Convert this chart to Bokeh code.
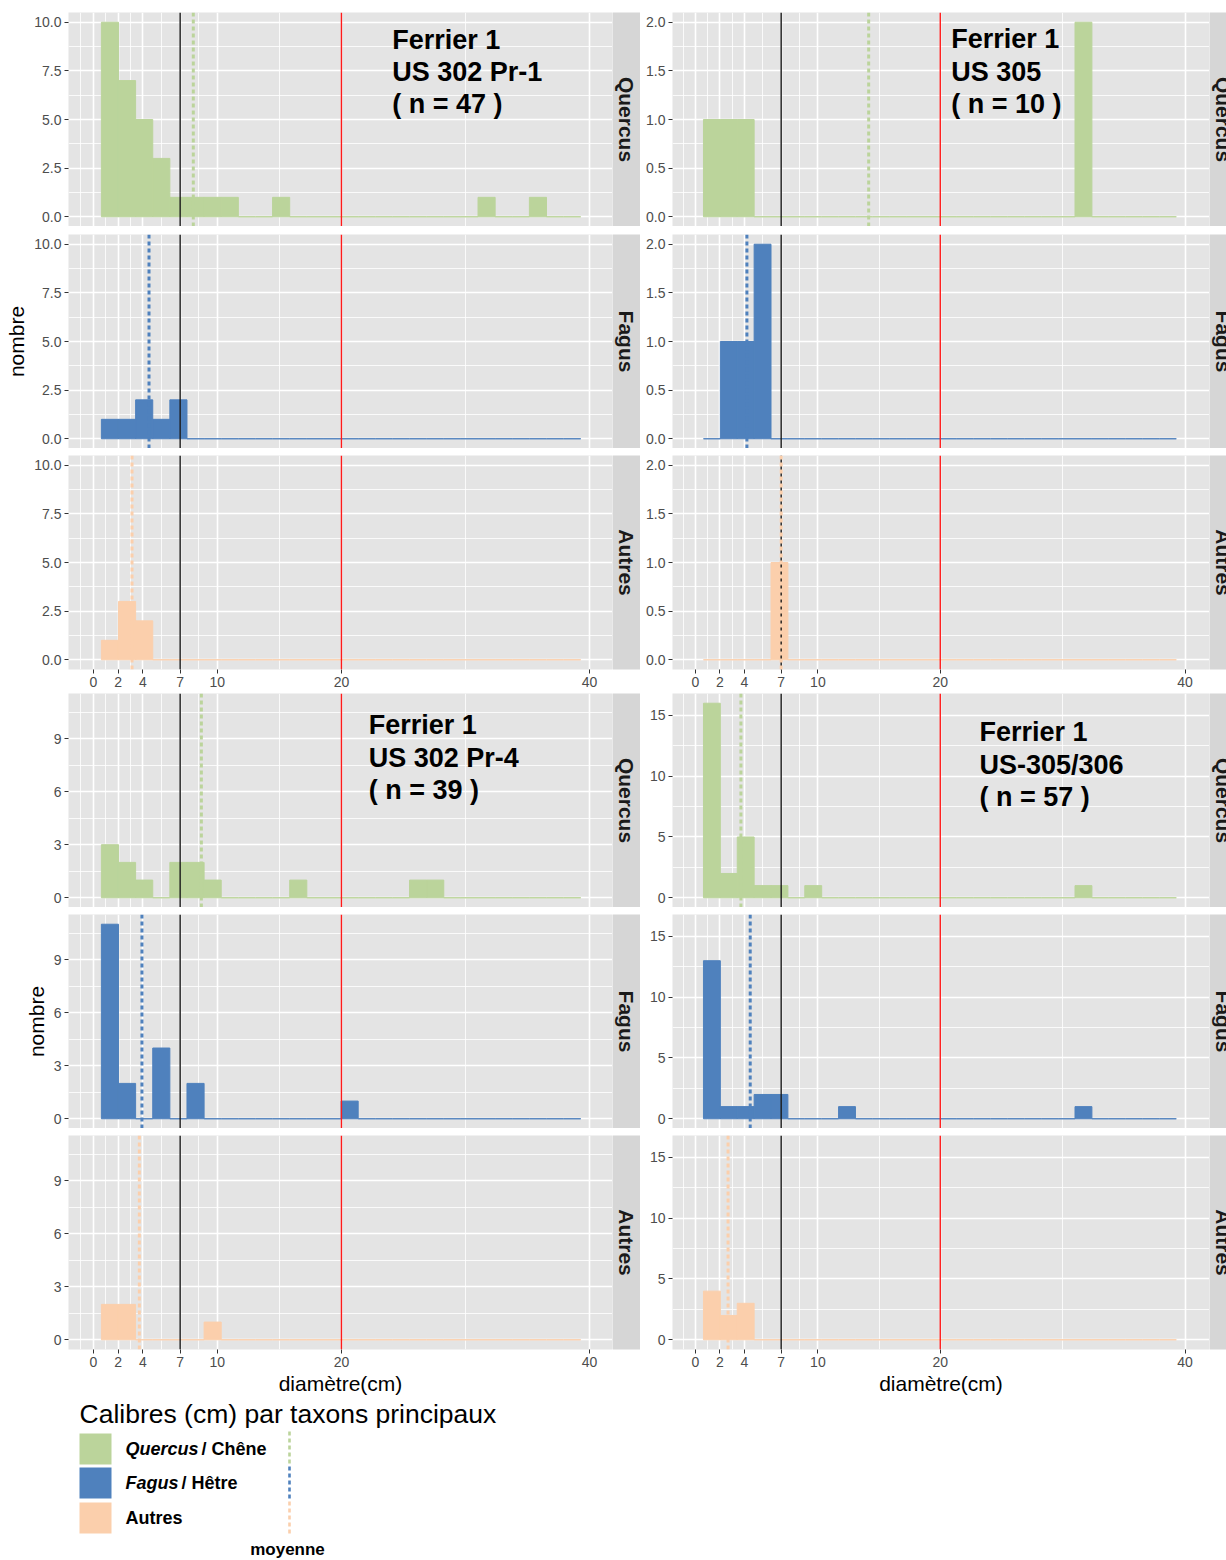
import math
from bokeh.plotting import figure
from bokeh.layouts import column, row
from bokeh.models import Range1d, FixedTicker, Span, Label, NumeralTickFormatter, ColumnDataSource
from bokeh.embed import file_html
from bokeh.resources import INLINE
from bokeh.core.properties import value

# ---------------- data ----------------
bin_start = 0.65
bin_width = 1.38
n_bins = 28

taxa = ["Quercus", "Fagus", "Autres"]
taxa_fr = ["Chêne", "Hêtre", ""]
taxa_colors = ["#BBD49B", "#4F81BD", "#FBCFAC"]

x_ticks = [0, 2, 4, 7, 10, 20, 40]
x_minor = [-1, 1, 3, 5.5, 8.5, 15, 30]
limit_small = 7
limit_large = 20

site_labels = [
    "Ferrier 1\nUS 302 Pr-1\n( n =  47 )",
    "Ferrier 1\nUS 305\n( n =  10 )",
    "Ferrier 1\nUS 302 Pr-4\n( n =  39 )",
    "Ferrier 1\nUS-305/306\n( n =  57 )",
]

# counts per bin (28 bins of width 1.38 starting at 0.65)
a_quercus = [10, 7, 5, 3, 1, 1, 1, 1, 0, 0, 1, 0, 0, 0, 0, 0, 0, 0, 0, 0, 0, 0, 1, 0, 0, 1, 0, 0]
a_fagus   = [1, 1, 2, 1, 2, 0, 0, 0, 0, 0, 0, 0, 0, 0, 0, 0, 0, 0, 0, 0, 0, 0, 0, 0, 0, 0, 0, 0]
a_autres  = [1, 3, 2, 0, 0, 0, 0, 0, 0, 0, 0, 0, 0, 0, 0, 0, 0, 0, 0, 0, 0, 0, 0, 0, 0, 0, 0, 0]
a_means   = [8.06, 4.49, 3.12]

b_quercus = [1, 1, 1, 0, 0, 0, 0, 0, 0, 0, 0, 0, 0, 0, 0, 0, 0, 0, 0, 0, 0, 0, 2, 0, 0, 0, 0, 0]
b_fagus   = [0, 1, 1, 2, 0, 0, 0, 0, 0, 0, 0, 0, 0, 0, 0, 0, 0, 0, 0, 0, 0, 0, 0, 0, 0, 0, 0, 0]
b_autres  = [0, 0, 0, 0, 1, 0, 0, 0, 0, 0, 0, 0, 0, 0, 0, 0, 0, 0, 0, 0, 0, 0, 0, 0, 0, 0, 0, 0]
b_means   = [14.15, 4.2, 7.0]

c_quercus = [3, 2, 1, 0, 2, 2, 1, 0, 0, 0, 0, 1, 0, 0, 0, 0, 0, 0, 1, 1, 0, 0, 0, 0, 0, 0, 0, 0]
c_fagus   = [11, 2, 0, 4, 0, 2, 0, 0, 0, 0, 0, 0, 0, 0, 1, 0, 0, 0, 0, 0, 0, 0, 0, 0, 0, 0, 0, 0]
c_autres  = [2, 2, 0, 0, 0, 0, 1, 0, 0, 0, 0, 0, 0, 0, 0, 0, 0, 0, 0, 0, 0, 0, 0, 0, 0, 0, 0, 0]
c_means   = [8.71, 3.92, 3.71]

d_quercus = [16, 2, 5, 1, 1, 0, 1, 0, 0, 0, 0, 0, 0, 0, 0, 0, 0, 0, 0, 0, 0, 0, 1, 0, 0, 0, 0, 0]
d_fagus   = [13, 1, 1, 2, 2, 0, 0, 0, 1, 0, 0, 0, 0, 0, 0, 0, 0, 0, 0, 0, 0, 0, 1, 0, 0, 0, 0, 0]
d_autres  = [4, 2, 3, 0, 0, 0, 0, 0, 0, 0, 0, 0, 0, 0, 0, 0, 0, 0, 0, 0, 0, 0, 0, 0, 0, 0, 0, 0]
d_means   = [3.71, 4.47, 2.66]

a_yticks, a_yminor, a_ymax = [0, 2.5, 5, 7.5, 10], [1.25, 3.75, 6.25, 8.75], 10
b_yticks, b_yminor, b_ymax = [0, 0.5, 1, 1.5, 2], [0.25, 0.75, 1.25, 1.75], 2
c_yticks, c_yminor, c_ymax = [0, 3, 6, 9], [1.5, 4.5, 7.5, 10.5], 11
d_yticks, d_yminor, d_ymax = [0, 5, 10, 15], [2.5, 7.5, 12.5], 16

# ---------------- style ----------------
FONT = "Liberation Sans"
PANEL_BG = "#E4E4E4"
STRIP_BG = "#D6D6D6"
TICK_COL = "#4D4D4D"
FRAME_H = 214


def facet(counts, color, mean, xr, ymax, yticks, yminor, yfmt, border_left, frame_w,
          top, bottom, show_x=False, ylabel=None, xlabel=None, label=None, label_pos=None):
    pad = ymax * 0.05
    p = figure(frame_width=frame_w, frame_height=FRAME_H,
               x_range=Range1d(*xr), y_range=Range1d(-pad, ymax + pad),
               output_backend="svg", toolbar_location=None,
               min_border_left=border_left, min_border_right=0,
               min_border_top=top, min_border_bottom=bottom,
               background_fill_color=PANEL_BG, border_fill_color="white",
               outline_line_color=None)
    lefts = [bin_start + i * bin_width for i in range(n_bins)]
    rights = [l + bin_width for l in lefts]
    src = ColumnDataSource(dict(left=lefts, right=rights, top=counts, bottom=[0] * n_bins))
    p.quad(left="left", right="right", top="top", bottom="bottom", source=src,
           fill_color=color, line_color=color, line_width=1)

    xt = FixedTicker(ticks=x_ticks, minor_ticks=x_minor)
    p.xaxis.ticker = xt
    p.xgrid.ticker = xt
    yt = FixedTicker(ticks=yticks, minor_ticks=yminor)
    p.yaxis.ticker = yt
    p.ygrid.ticker = yt
    p.yaxis.formatter = NumeralTickFormatter(format=yfmt)
    for g in (p.xgrid, p.ygrid):
        g.grid_line_color = "white"
        g.grid_line_width = 1.6
        g.minor_grid_line_color = "white"
        g.minor_grid_line_width = 0.8
    for ax in (p.xaxis, p.yaxis):
        ax.axis_line_color = None
        ax.minor_tick_line_color = None
        ax.major_tick_line_color = "#333333"
        ax.major_tick_out = 4
        ax.major_tick_in = 0
        ax.major_label_standoff = 3
        ax.major_label_text_font = FONT
        ax.major_label_text_font_size = "14px"
        ax.major_label_text_color = TICK_COL
        ax.axis_label_text_font = FONT
        ax.axis_label_text_font_size = "21px"
        ax.axis_label_text_font_style = "normal"
        ax.axis_label_text_color = "black"
        ax.axis_label_standoff = 3
    p.xaxis.visible = show_x
    if ylabel:
        p.yaxis.axis_label = ylabel
    if xlabel:
        p.xaxis.axis_label = xlabel
        p.xaxis.axis_label_standoff = 2

    p.add_layout(Span(location=limit_small, dimension="height", line_color="#1A1A1A", line_width=1.4))
    p.add_layout(Span(location=limit_large, dimension="height", line_color="#FF1A1A", line_width=1.4))
    p.add_layout(Span(location=mean, dimension="height", line_color=color, line_width=3,
                      line_dash="4 3"))
    if label:
        p.add_layout(Label(x=label_pos[0], y=label_pos[1], text=label, text_font=FONT,
                           text_font_size="27px", text_font_style="bold", text_color="black",
                           text_align="left", text_baseline="top", text_line_height=1.08))
    return p


def strip(name, frame_w, visible_frac, top, bottom):
    s = figure(frame_width=frame_w, frame_height=FRAME_H,
               x_range=Range1d(0, visible_frac), y_range=Range1d(0, 1),
               output_backend="svg", toolbar_location=None,
               min_border_left=0, min_border_right=0,
               min_border_top=top, min_border_bottom=bottom,
               background_fill_color=STRIP_BG, border_fill_color="white",
               outline_line_color=None)
    s.axis.visible = False
    s.grid.visible = False
    src = ColumnDataSource(dict(x=[0.5], y=[0.5], t=[name]))
    s.text(x="x", y="y", text="t", source=src, angle=-math.pi / 2,
           text_align="center", text_baseline="middle",
           text_font=value(FONT), text_font_style="bold", text_font_size="21px",
           text_color="#1A1A1A")
    return s


def panel(counts_list, means, ymax, yticks, yminor, yfmt, xr, border_left, frame_w,
          strip_w, borders, bottom_label, label, label_pos, show_ylabel):
    rows = []
    for i, (cnt, m, tax, col) in enumerate(zip(counts_list, means, taxa, taxa_colors)):
        top, bottom = borders[i]
        is_last = i == 2
        f = facet(cnt, col, m, xr, ymax, yticks, yminor, yfmt, border_left, frame_w,
                  top, bottom, show_x=is_last,
                  ylabel=("nombre" if (i == 1 and show_ylabel) else None),
                  xlabel=(bottom_label if is_last else None),
                  label=(label if i == 0 else None), label_pos=label_pos)
        s = strip(tax, strip_w, strip_w / 28.0, top, bottom)
        rows.append(row(f, s))
    return column(*rows)


top_borders = [(12, 0), (8, 0), (7, 24)]
bot_borders = [(0, 0), (7, 0), (7, 48)]

left_xr = (-2.0, 41.85)
right_xr = (-1.88, 42.0)

pA = panel([a_quercus, a_fagus, a_autres], a_means, a_ymax, a_yticks, a_yminor, "0.0",
           left_xr, 68, 544, 28, top_borders, None, site_labels[0], (24.1, 9.88), True)
pC = panel([c_quercus, c_fagus, c_autres], c_means, c_ymax, c_yticks, c_yminor, "0",
           left_xr, 68, 544, 28, bot_borders, "diamètre(cm)", site_labels[2], (22.2, 10.59), True)
pB = panel([b_quercus, b_fagus, b_autres], b_means, b_ymax, b_yticks, b_yminor, "0.0",
           right_xr, 32, 537, 17, top_borders, None, site_labels[1], (20.9, 1.977), False)
pD = panel([d_quercus, d_fagus, d_autres], d_means, d_ymax, d_yticks, d_yminor, "0",
           right_xr, 32, 537, 17, bot_borders, "diamètre(cm)", site_labels[3], (23.2, 14.83), False)

# ---------------- legend ----------------
LW, LH = 520, 163
leg = figure(width=LW, height=LH, x_range=Range1d(0, LW), y_range=Range1d(LH, 0),
             output_backend="svg", toolbar_location=None, min_border=0,
             outline_line_color=None, background_fill_color="white", border_fill_color="white")
leg.axis.visible = False
leg.grid.visible = False

leg_title = "Calibres (cm) par taxons principaux"
leg.text(x=[79], y=[16], text=[leg_title], text_font=value(FONT), text_font_size="26.5px",
         text_align="left", text_baseline="middle", text_color="black")

key_top = [36, 70, 105]
key_h = 31
leg.quad(left=[79] * 3, right=[111] * 3, top=key_top, bottom=[t + key_h for t in key_top],
         fill_color=taxa_colors, line_color=None)
key_mid = [t + key_h / 2 for t in key_top]
# italic genus names
leg.text(x=[125, 125], y=key_mid[:2], text=taxa[:2], text_font=value(FONT),
         text_font_size="18px", text_font_style="bold italic", text_align="left",
         text_baseline="middle", text_color="black")
leg.text(x=[201, 181], y=key_mid[:2], text=["/ " + taxa_fr[0], "/ " + taxa_fr[1]],
         text_font=value(FONT), text_font_size="18px", text_font_style="bold",
         text_align="left", text_baseline="middle", text_color="black")
leg.text(x=[125], y=[key_mid[2]], text=[taxa[2]], text_font=value(FONT),
         text_font_size="18px", text_font_style="bold", text_align="left",
         text_baseline="middle", text_color="black")
seg_top = [34, 69, 104]
for st, colr in zip(seg_top, taxa_colors):
    leg.line(x=[289, 289], y=[st, st + 35], line_color=colr, line_width=2.6, line_dash="4 3")
leg.text(x=[287], y=[152], text=["moyenne"], text_font=value(FONT), text_font_size="17px",
         text_font_style="bold", text_align="center", text_baseline="middle", text_color="black")

layout = column(row(column(pA, pC), column(pB, pD)), leg)

open("out.html", "w").write(file_html(layout, INLINE))
